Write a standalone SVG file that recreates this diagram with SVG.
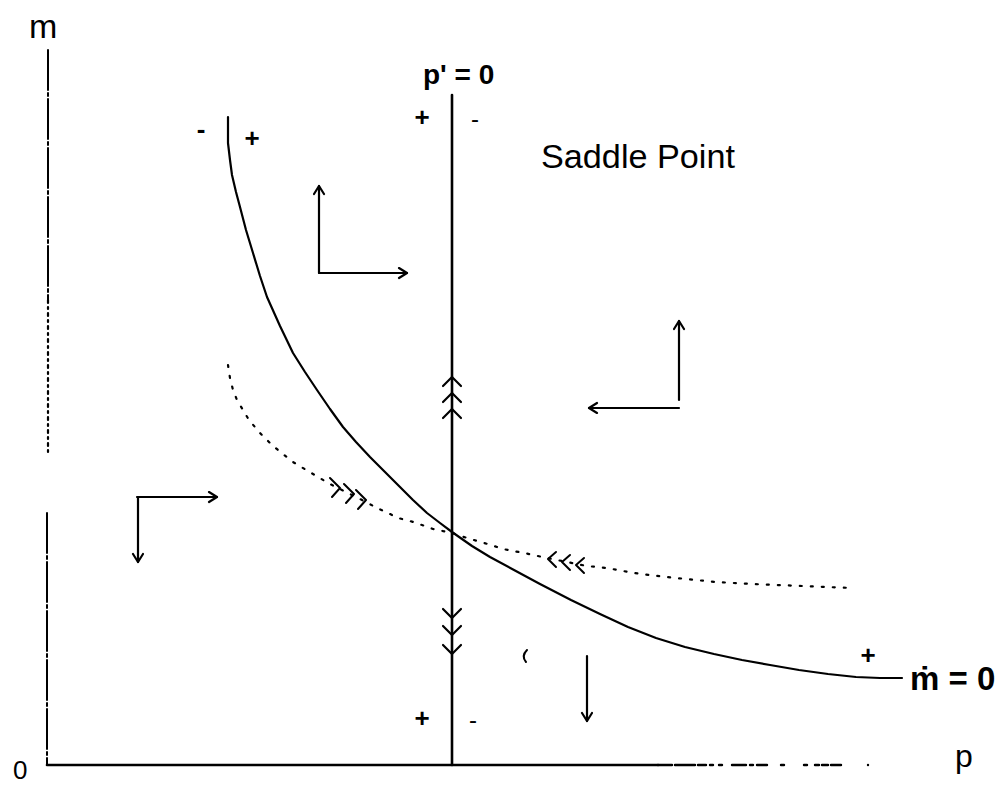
<svg xmlns="http://www.w3.org/2000/svg" width="996" height="787" viewBox="0 0 996 787">
<style>
.t{font-family:"Liberation Sans",Arial,sans-serif;fill:#000}
.b{font-weight:bold}
.ln{stroke:#000;fill:none;stroke-linecap:round;stroke-linejoin:round}
.ar{stroke:#000;fill:none;stroke-width:2.2;stroke-linecap:round;stroke-linejoin:round}
</style>
<defs>
<marker id="ah" markerUnits="userSpaceOnUse" markerWidth="14" markerHeight="14" refX="10" refY="6" orient="auto">
<path d="M2,1 L10,6 L2,11" fill="none" stroke="#000" stroke-width="2.2" stroke-linecap="round" stroke-linejoin="round"/>
</marker>
</defs>
<rect width="996" height="787" fill="#fff"/>

<g id="axes">
<path class="ln" stroke-width="2" stroke-dasharray="40 3 3 3" d="M48,50 V300"/>
<path class="ln" stroke-width="2.2" stroke-dasharray="3 4 2 4" d="M48,300 V455"/>
<path class="ln" stroke-width="2" stroke-dasharray="40 3 3 3" d="M47,513 V765"/>
<path class="ln" stroke-width="2.6" d="M47,765 H658"/>
<path class="ln" stroke-width="2.4" stroke-dasharray="14 3 20 3 8 4 3 6 3 10 14 4 3 4 10" d="M658,765 H845"/>
<circle cx="868" cy="765" r="1.2" fill="#000"/>
<text class="t" x="29" y="38" font-size="34">m</text>
<text class="t" x="13" y="779" font-size="26">0</text>
<text class="t" x="955" y="767" font-size="32">p</text>
</g>

<g id="p-dot-zero">
<path class="ln" stroke-width="2.6" d="M452,95 V765"/>
<text class="t b" x="423" y="84" font-size="28">p' = 0</text>
<text class="t b" x="422" y="126" font-size="26" text-anchor="middle">+</text>
<text class="t" x="475" y="127" font-size="24" text-anchor="middle">-</text>
<text class="t b" x="422" y="727" font-size="26" text-anchor="middle">+</text>
<text class="t" x="473" y="728" font-size="24" text-anchor="middle">-</text>
</g>

<g id="m-dot-zero">
<path class="ln" stroke-width="2.2" d="M228,117 L228,143 L230,160 L232,175 L236,192 L240,207 L246,230 L253,253 L260,276 L267,297 L280,326 L293,353 L305,372 L317,390 L330,409 L343,427 L356,442 L370,457 L385,472 L400,487 L413,500 L427,513 L440,523 L452,532 L472,546 L490,557 L514,570 L540,584 L571,600 L600,614 L628,627 L656,638 L685,647 L714,654 L742,660 L770,665 L799,670 L828,674 L856,677 L880,678 L902,678"/>
<text class="t b" x="201" y="138" font-size="26" text-anchor="middle">-</text>
<text class="t b" x="252" y="147" font-size="26" text-anchor="middle">+</text>
<text class="t b" x="868" y="664" font-size="26" text-anchor="middle">+</text>
<text class="t b" x="910" y="690" font-size="33">ṁ = 0</text>
</g>

<g id="saddle-path">
<path class="ln" stroke-width="2.2" stroke-dasharray="2 9" d="M228,365 L230,378 L233,390 L237,400 L243,410 L249,420 L260,433 L273,446 L293,462 L313,474 L330,484 L348,493 L366,502 L377,508 L388,513 L398,518 L410,521 L422,525 L433,529 L452,533 L467,538 L491,545 L503,549 L524,553 L547,558 L587,566 L607,568 L634,573 L666,577 L716,582 L752,584 L852,588"/>
<path class="ln" stroke-width="2" d="M330,478 L340,488 L332,497 M344,484 L354,494 L346,503 M356,490 L366,500 L358,509"/>
<path class="ln" stroke-width="2" d="M556,552 L548,559 L556,567 M570,555 L562,562 L570,570 M584,558 L576,565 L584,573"/>
<text class="t" x="541" y="168" font-size="34" textLength="194" lengthAdjust="spacingAndGlyphs">Saddle Point</text>
</g>

<g id="connectors">
<path class="ln" stroke-width="2.2" d="M443,386 L452,377 L461,386 M443,402 L452,393 L461,402 M443,418 L452,409 L461,418"/>
<path class="ln" stroke-width="2.2" d="M443,609 L452,618 L461,609 M443,626 L452,635 L461,626 M443,645 L452,654 L461,645"/>
<path class="ar" d="M319,273 V186" marker-end="url(#ah)"/>
<path class="ar" d="M319,273 H407" marker-end="url(#ah)"/>
<path class="ar" d="M679,400 V321" marker-end="url(#ah)"/>
<path class="ar" d="M679,408 H589" marker-end="url(#ah)"/>
<path class="ar" d="M137,497 H217" marker-end="url(#ah)"/>
<path class="ar" d="M138,497 V562" marker-end="url(#ah)"/>
<path class="ar" d="M587,656 V721" marker-end="url(#ah)"/>
<path class="ln" stroke-width="2" d="M527,650 Q521,656 526,662"/>
</g>
</svg>
